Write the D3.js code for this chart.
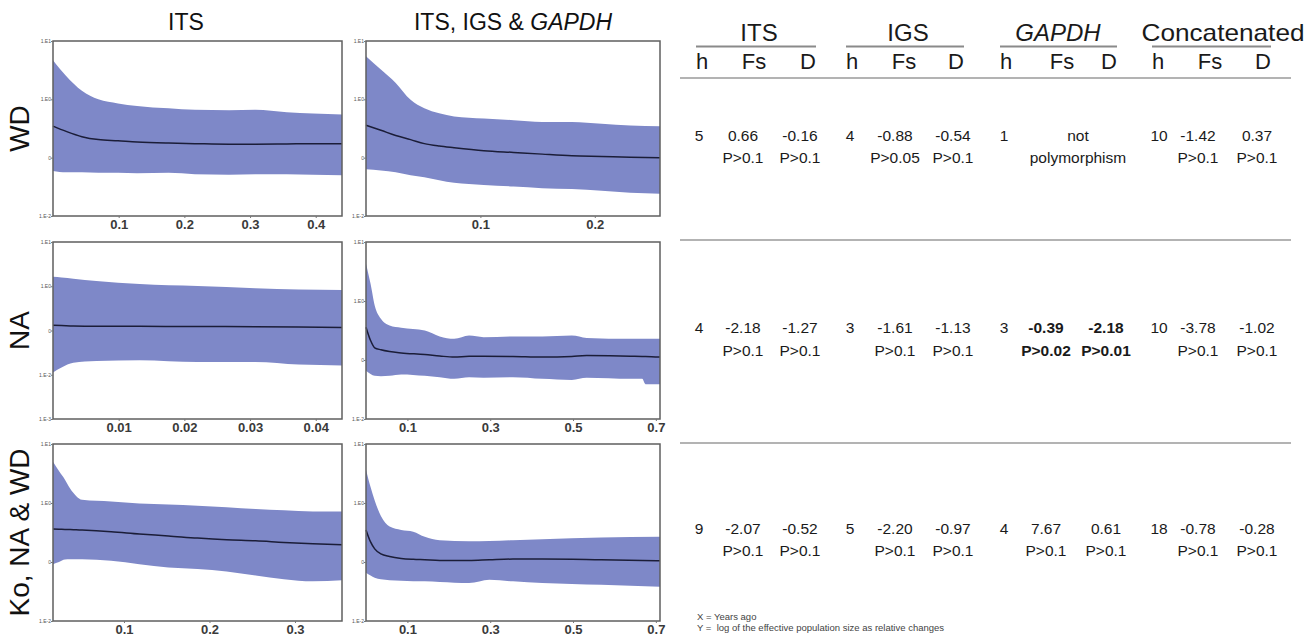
<!DOCTYPE html>
<html lang="en">
<head>
<meta charset="UTF-8">
<title>Bayesian skyline plots and neutrality tests</title>
<style>
  body { margin: 0; background: #fff; }
  svg text { font-family: "Liberation Sans", Arial, Helvetica, sans-serif; }
</style>
</head>
<body>
<svg id="chart" width="1306" height="641"></svg>
<script src="https://cdn.jsdelivr.net/npm/d3@7"></script>
<script>
// ---- skyline data (time = years ago, Ne as relative change) ----
// WD, ITS
const wdItsTime   = [0, 0.020, 0.044, 0.069, 0.099, 0.128, 0.176, 0.216, 0.268, 0.308, 0.356, 0.396, 0.440];
const wdItsUpper  = [4.68, 2.51, 1.40, 1.00, 0.85, 0.77, 0.70, 0.66, 0.65, 0.66, 0.60, 0.57, 0.55];
const wdItsMedian = [0.347, 0.282, 0.229, 0.204, 0.195, 0.186, 0.178, 0.174, 0.170, 0.170, 0.172, 0.174, 0.174];
const wdItsLower  = [0.059, 0.056, 0.056, 0.055, 0.055, 0.054, 0.055, 0.052, 0.051, 0.052, 0.052, 0.051, 0.050];
// WD, ITS + IGS + GAPDH
const wdAllTime   = [0, 0.013, 0.026, 0.039, 0.051, 0.064, 0.077, 0.103, 0.129, 0.154, 0.180, 0.206, 0.231, 0.257];
const wdAllUpper  = [5.5, 3.24, 1.91, 0.98, 0.70, 0.575, 0.51, 0.47, 0.44, 0.41, 0.41, 0.38, 0.355, 0.347];
const wdAllMedian = [0.359, 0.295, 0.240, 0.204, 0.174, 0.158, 0.148, 0.132, 0.123, 0.115, 0.108, 0.105, 0.102, 0.100];
const wdAllLower  = [0.063, 0.060, 0.056, 0.050, 0.046, 0.041, 0.037, 0.034, 0.032, 0.030, 0.029, 0.027, 0.025, 0.024];
// NA, ITS
const naItsTime   = [0, 0.0013, 0.0031, 0.0066, 0.0132, 0.022, 0.0308, 0.0374, 0.044];
const naItsUpper  = [1.64, 1.58, 1.48, 1.32, 1.12, 1.01, 0.90, 0.84, 0.82];
const naItsMedian = [0.131, 0.129, 0.126, 0.124, 0.124, 0.123, 0.122, 0.120, 0.117];
const naItsLower  = [0.0112, 0.0145, 0.0186, 0.0204, 0.0214, 0.0195, 0.0195, 0.0170, 0.0162];
// NA, ITS + IGS + GAPDH
const naAllTime   = [0, 0.011, 0.021, 0.036, 0.057, 0.085, 0.142, 0.178, 0.213, 0.249, 0.284, 0.355, 0.426, 0.497, 0.533, 0.639, 0.667, 0.675, 0.71];
const naAllUpper  = [4.29, 1.96, 0.84, 0.50, 0.385, 0.352, 0.316, 0.251, 0.229, 0.26, 0.244, 0.251, 0.251, 0.26, 0.237, 0.229, 0.229, 0.229, 0.229];
const naAllMedian = [0.36, 0.214, 0.161, 0.149, 0.139, 0.132, 0.124, 0.117, 0.112, 0.116, 0.116, 0.115, 0.112, 0.115, 0.119, 0.116, 0.115, 0.115, 0.112];
const naAllLower  = [0.066, 0.058, 0.054, 0.053, 0.054, 0.057, 0.054, 0.051, 0.048, 0.051, 0.050, 0.051, 0.048, 0.046, 0.050, 0.048, 0.048, 0.039, 0.039];
// Ko, NA & WD, ITS
const koItsTime   = [0.017, 0.024, 0.031, 0.037, 0.044, 0.051, 0.085, 0.118, 0.152, 0.186, 0.220, 0.254, 0.287, 0.321, 0.355];
const koItsUpper  = [5.0, 3.47, 2.48, 1.76, 1.32, 1.13, 1.06, 0.98, 0.94, 0.90, 0.85, 0.79, 0.75, 0.72, 0.72];
const koItsMedian = [0.361, 0.359, 0.356, 0.355, 0.351, 0.348, 0.327, 0.299, 0.277, 0.254, 0.238, 0.229, 0.215, 0.204, 0.197];
const koItsLower  = [0.092, 0.100, 0.110, 0.111, 0.111, 0.111, 0.105, 0.092, 0.081, 0.076, 0.069, 0.059, 0.051, 0.047, 0.049];
// Ko, NA & WD, ITS + IGS + GAPDH
const koAllTime   = [0, 0.011, 0.021, 0.036, 0.057, 0.085, 0.114, 0.142, 0.178, 0.249, 0.298, 0.355, 0.426, 0.568, 0.71];
const koAllUpper  = [3.66, 1.86, 1.10, 0.603, 0.398, 0.350, 0.327, 0.267, 0.234, 0.224, 0.226, 0.234, 0.244, 0.261, 0.267];
const koAllMedian = [0.350, 0.219, 0.167, 0.137, 0.124, 0.115, 0.111, 0.109, 0.106, 0.106, 0.109, 0.112, 0.112, 0.109, 0.105];
const koAllLower  = [0.066, 0.059, 0.054, 0.051, 0.049, 0.048, 0.047, 0.047, 0.046, 0.044, 0.050, 0.047, 0.044, 0.041, 0.038];

// tick values / labels
const yTicks4 = [10, 1, 0.1, 0.01];
const yTicks5 = [10, 1, 0.1, 0.01, 0.001];
const yLabels4 = ["1.E1", "1.E0", "0", "1.E-2"];
const yLabels5 = ["1.E1", "1.E0", "0", "1.E-2", "1.E-3"];
const xTicksWdIts = [0.1, 0.2, 0.3, 0.4];
const xTicksWdAll = [0.1, 0.2];
const xTicksNaIts = [0.01, 0.02, 0.03, 0.04];
const xTicksAll = [0.1, 0.3, 0.5, 0.7];
const xTicksKoIts = [0.1, 0.2, 0.3];

// ---- neutrality test table ----
const populations = ["WD", "NA", "Ko, NA & WD"];
const markers = ["ITS", "IGS", "GAPDH", "Concatenated"];
const statHeads = ["h", "Fs", "D"];
const hCounts = [["5", "4", "1", "10"], ["4", "3", "3", "10"], ["9", "5", "4", "18"]];
const fsStats = [["0.66", "-0.88", "", "-1.42"], ["-2.18", "-1.61", "-0.39", "-3.78"], ["-2.07", "-2.20", "7.67", "-0.78"]];
const fsProbs = [["P>0.1", "P>0.05", "", "P>0.1"], ["P>0.1", "P>0.1", "P>0.02", "P>0.1"], ["P>0.1", "P>0.1", "P>0.1", "P>0.1"]];
const dStats  = [["-0.16", "-0.54", "", "0.37"], ["-1.27", "-1.13", "-2.18", "-1.02"], ["-0.52", "-0.97", "0.61", "-0.28"]];
const dProbs  = [["P>0.1", "P>0.1", "", "P>0.1"], ["P>0.1", "P>0.1", "P>0.01", "P>0.1"], ["P>0.1", "P>0.1", "P>0.1", "P>0.1"]];
const noPolymorphism = ["not", "polymorphism"];   // WD / GAPDH
const boldCell = { row: 1, group: 2 };            // NA / GAPDH significant

const bandColor = "#7e88c8";
const lineColor = "#1b1d38";

const svg = d3.select("#chart");

// panel placement
const colX = [[53, 342], [366, 660]];
const rowY = [[41, 216], [242, 419], [444, 621]];

const panels = [
  { row: 0, col: 0, t: wdItsTime, hi: wdItsUpper, md: wdItsMedian, lo: wdItsLower, xd: [0, 0.44],  yd: [0.01, 10],  xt: xTicksWdIts, yt: yTicks4, yl: yLabels4 },
  { row: 0, col: 1, t: wdAllTime, hi: wdAllUpper, md: wdAllMedian, lo: wdAllLower, xd: [0, 0.257], yd: [0.01, 10],  xt: xTicksWdAll, yt: yTicks4, yl: yLabels4 },
  { row: 1, col: 0, t: naItsTime, hi: naItsUpper, md: naItsMedian, lo: naItsLower, xd: [0, 0.044], yd: [0.001, 10], xt: xTicksNaIts, yt: yTicks5, yl: yLabels5 },
  { row: 1, col: 1, t: naAllTime, hi: naAllUpper, md: naAllMedian, lo: naAllLower, xd: [0, 0.71],  yd: [0.01, 10],  xt: xTicksAll,   yt: yTicks4, yl: yLabels4 },
  { row: 2, col: 0, t: koItsTime, hi: koItsUpper, md: koItsMedian, lo: koItsLower, xd: [0.017, 0.355], yd: [0.01, 10], xt: xTicksKoIts, yt: yTicks4, yl: yLabels4 },
  { row: 2, col: 1, t: koAllTime, hi: koAllUpper, md: koAllMedian, lo: koAllLower, xd: [0, 0.71],  yd: [0.01, 10],  xt: xTicksAll,   yt: yTicks4, yl: yLabels4 },
];

panels.forEach(p => {
  const [x0, x1] = colX[p.col], [y0, y1] = rowY[p.row];
  const x = d3.scaleLinear().domain(p.xd).range([x0, x1]);
  const y = d3.scaleLog().domain(p.yd).range([y1, y0]);
  const pts = p.t.map((t, i) => ({ t, hi: p.hi[i], md: p.md[i], lo: p.lo[i] }));
  const g = svg.append("g");

  g.append("path").datum(pts)
    .attr("fill", bandColor)
    .attr("d", d3.area().x(d => x(d.t)).y0(d => y(d.lo)).y1(d => y(d.hi)).curve(d3.curveMonotoneX));
  g.append("path").datum(pts)
    .attr("fill", "none").attr("stroke", lineColor).attr("stroke-width", 1.5)
    .attr("d", d3.line().x(d => x(d.t)).y(d => y(d.md)).curve(d3.curveMonotoneX));

  // frame
  g.append("rect").attr("x", x0).attr("y", y0).attr("width", x1 - x0).attr("height", y1 - y0)
    .attr("fill", "none").attr("stroke", "#5f5f5f").attr("stroke-width", 1.5);

  const xa = g.append("g").attr("transform", `translate(0,${y1})`)
    .call(d3.axisBottom(x).tickValues(p.xt).tickSize(2).tickPadding(2).tickFormat(d => String(d)));
  xa.select(".domain").remove();
  xa.selectAll("line").attr("stroke", "#777");
  xa.selectAll("text").attr("font-size", 13).attr("font-weight", "bold").attr("fill", "#3a3a3a");

  const ya = g.append("g").attr("transform", `translate(${x0},0)`)
    .call(d3.axisLeft(y).tickValues(p.yt).tickSize(2).tickFormat((d, i) => p.yl[i]));
  ya.select(".domain").remove();
  ya.selectAll("line").attr("stroke", "#777");
  ya.selectAll("text").attr("font-size", 5).attr("fill", "#555").attr("x", -2);
});

// column titles
const colTitles = svg.append("g").attr("font-size", 23).attr("fill", "#111").attr("text-anchor", "middle");
colTitles.append("text").attr("x", 186).attr("y", 30).text("ITS");
const t2 = colTitles.append("text").attr("x", 513).attr("y", 30);
t2.append("tspan").text("ITS, IGS & ");
t2.append("tspan").attr("font-style", "italic").text("GAPDH");

// row labels
populations.forEach((name, i) => {
  const cy = (rowY[i][0] + rowY[i][1]) / 2;
  svg.append("text").attr("transform", `translate(29,${cy}) rotate(-90)`)
    .attr("text-anchor", "middle").attr("font-size", 28).attr("fill", "#111").text(name);
});

// ---- table ----
const headH = [702, 852, 1006, 1158], headFs = [754, 904, 1062, 1210], headD = [808, 956, 1109, 1263];
const valH = [699, 850, 1004, 1159], valFs = [743, 895, 1046, 1198], valD = [800, 953, 1106, 1257];
const valueY = [135, 327, 528], probY = [157, 350, 550];
const titleX = [759, 908, 1058, 1223];

const table = svg.append("g").attr("text-anchor", "middle").attr("fill", "#1a1a1a");

markers.forEach((m, j) => {
  const l = headH[j] - 6, r = headD[j] + 8;
  const title = table.append("text").attr("x", titleX[j]).attr("y", 41).attr("font-size", 24)
    .attr("font-style", m === "GAPDH" ? "italic" : null).text(m);
  if (m === "Concatenated") title.attr("textLength", 163).attr("lengthAdjust", "spacingAndGlyphs");
  table.append("line").attr("x1", l).attr("x2", r).attr("y1", 46.5).attr("y2", 46.5)
    .attr("stroke", "#8a8a8a").attr("stroke-width", 2);
  [headH, headFs, headD].forEach((xs, k) => {
    table.append("text").attr("x", xs[j]).attr("y", 69).attr("font-size", 22).text(statHeads[k]);
  });
});

[78, 240, 443].forEach(yy => {
  table.append("line").attr("x1", 680).attr("x2", 1291).attr("y1", yy).attr("y2", yy)
    .attr("stroke", "#9a9a9a").attr("stroke-width", 1.3);
});

populations.forEach((pop, i) => {
  markers.forEach((m, j) => {
    const sig = boldCell.row === i && boldCell.group === j ? "bold" : null;
    const cell = (x, y, s, w) => table.append("text").attr("x", x).attr("y", y + 5.5)
      .attr("font-size", 15.5).attr("font-weight", w).text(s);
    cell(valH[j], valueY[i], hCounts[i][j], null);
    if (fsStats[i][j] === "") {
      cell((valFs[j] + valD[j]) / 2 + 2, valueY[i], noPolymorphism[0], null);
      cell((valFs[j] + valD[j]) / 2 + 2, probY[i], noPolymorphism[1], null);
      return;
    }
    cell(valFs[j], valueY[i], fsStats[i][j], sig);
    cell(valD[j], valueY[i], dStats[i][j], sig);
    cell(valFs[j], probY[i], fsProbs[i][j], sig);
    cell(valD[j], probY[i], dProbs[i][j], sig);
  });
});

// footnote
const note = svg.append("g").attr("font-size", 9.5).attr("fill", "#444");
note.append("text").attr("x", 697).attr("y", 620).text("X = Years ago");
note.append("text").attr("x", 697).attr("y", 631).attr("xml:space", "preserve")
  .text("Y =  log of the effective population size as relative changes");
</script>
</body>
</html>
